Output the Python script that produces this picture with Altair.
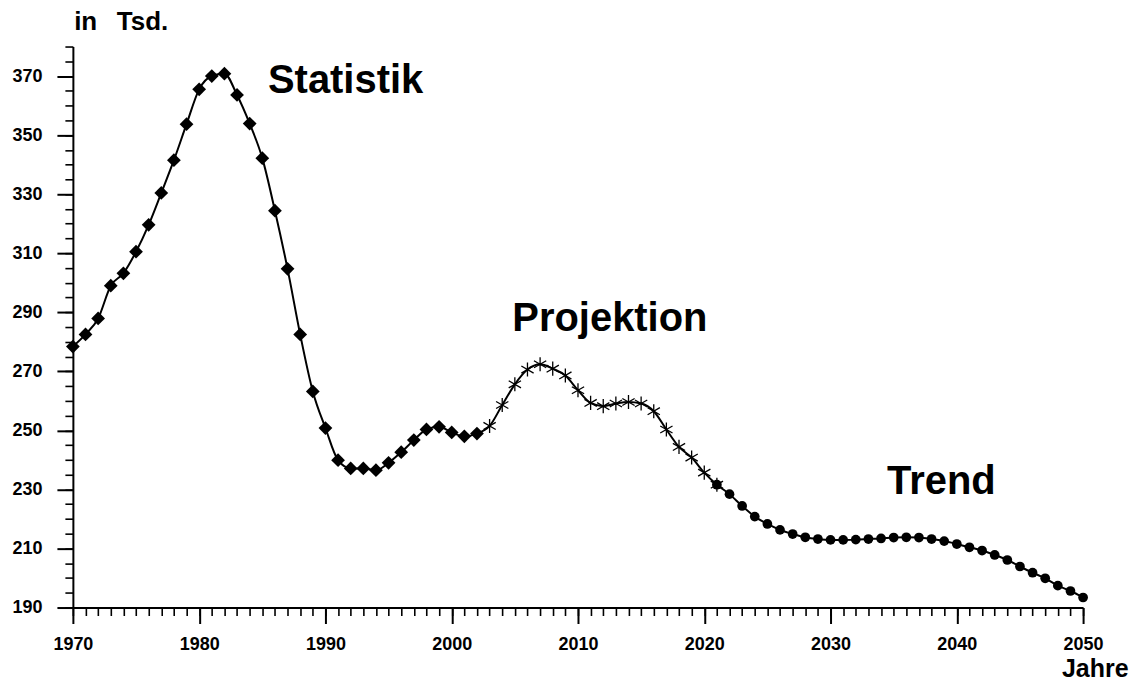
import altair as alt
import pandas as pd

# ---- data ----
stat_years = list(range(1970, 2003))
stat_values = [278.4, 282.5, 287.9, 299.0, 303.2, 310.5, 319.6, 330.4, 341.5, 353.7,
               365.5, 370.0, 370.8, 363.6, 353.9, 342.2, 324.4, 304.7, 282.5, 263.2,
               250.8, 239.9, 237.1, 237.1, 236.5, 239.0, 242.6, 246.7, 250.3, 251.2,
               249.3, 248.0, 248.9]

proj_years = list(range(2003, 2022))
proj_values = [251.5, 258.6, 265.6, 270.6, 272.4, 270.9, 268.6, 263.6, 259.3, 258.2,
               259.1, 259.6, 259.1, 256.5, 250.3, 244.4, 240.8, 235.7, 231.6]

trend_years = list(range(2021, 2051))
trend_values = [231.6, 228.4, 224.4, 220.8, 218.3, 216.3, 214.9, 213.8, 213.2, 212.9,
                212.9, 213.0, 213.2, 213.4, 213.7, 213.8, 213.7, 213.2, 212.5, 211.5,
                210.4, 209.3, 207.8, 206.1, 203.9, 201.8, 199.9, 197.4, 195.6, 193.4]

x_major = list(range(1970, 2051, 10))
x_minor = list(range(1970, 2051, 1))
y_major = list(range(190, 371, 20))
y_minor = list(range(190, 381, 5))

ann_labels = ["Statistik", "Projektion", "Trend"]
ann_x = [1985.45, 2004.8, 2034.47]
ann_y = [364.3, 283.5, 228.6]

unit_labels = ["in", "Tsd."]
unit_x = [1970.1, 1973.48]
unit_y = [385.5, 385.5]

xtitle_label = ["Jahre"]
xtitle_x = [2053.6]
xtitle_y = [166.4]

# ---- tables ----
stat = pd.DataFrame({"year": stat_years, "value": stat_values})
proj = pd.DataFrame({"year": proj_years, "value": proj_values})
trend = pd.DataFrame({"year": trend_years, "value": trend_values})
line_df = pd.concat([stat, proj, trend]).drop_duplicates("year").sort_values("year")
ann = pd.DataFrame({"label": ann_labels, "x": ann_x, "y": ann_y})
unit = pd.DataFrame({"label": unit_labels, "x": unit_x, "y": unit_y})
xt = pd.DataFrame({"label": xtitle_label, "x": xtitle_x, "y": xtitle_y})

FONT = "Liberation Sans"

xscale = alt.Scale(domain=[1970, 2050], nice=False, zero=False)
yscale = alt.Scale(domain=[190, 380], nice=False, zero=False)

ax_x_major = alt.Axis(orient="bottom", values=x_major, tickSize=16, tickWidth=2,
                      tickColor="black", domain=True, domainColor="black", domainWidth=2,
                      grid=False, labelFont=FONT, labelFontWeight="bold",
                      labelFontSize=18, labelColor="black", labelPadding=12,
                      labelFlush=False, labelOverlap=False, format="d", title=None)
ax_y_major = alt.Axis(orient="left", values=y_major, tickSize=16, tickWidth=2,
                      tickColor="black", domain=True, domainColor="black", domainWidth=2,
                      grid=False, labelFont=FONT, labelFontWeight="bold",
                      labelFontSize=18, labelColor="black", labelPadding=15,
                      labelOverlap=False, format="d", title=None)
ax_x_minor = alt.Axis(orient="bottom", values=x_minor, tickSize=8, tickWidth=1.6,
                      tickColor="black", domain=False, grid=False, labels=False, title=None)
ax_y_minor = alt.Axis(orient="left", values=y_minor, tickSize=8, tickWidth=1.6,
                      tickColor="black", domain=False, grid=False, labels=False, title=None)

line = alt.Chart(line_df).mark_line(color="black", strokeWidth=2, interpolate="monotone").encode(
    x=alt.X("year:Q", scale=xscale, axis=ax_x_major),
    y=alt.Y("value:Q", scale=yscale, axis=ax_y_major),
)

diamonds = alt.Chart(stat).mark_point(shape="diamond", filled=True, color="black",
                                      size=190, opacity=1).encode(
    x=alt.X("year:Q", scale=xscale, axis=ax_x_minor),
    y=alt.Y("value:Q", scale=yscale, axis=ax_y_minor),
)

ASTERISK = "M0,-1L0,1M-0.87,-0.5L0.87,0.5M-0.87,0.5L0.87,-0.5"
stars = alt.Chart(proj).mark_point(shape=ASTERISK, filled=False, color="black",
                                   strokeWidth=1.3, size=200, opacity=1).encode(
    x=alt.X("year:Q", scale=xscale, axis=None),
    y=alt.Y("value:Q", scale=yscale, axis=None),
)

dots = alt.Chart(trend).mark_point(shape="circle", filled=True, color="black",
                                   size=95, opacity=1).encode(
    x=alt.X("year:Q", scale=xscale, axis=None),
    y=alt.Y("value:Q", scale=yscale, axis=None),
)

big_text = alt.Chart(ann).mark_text(font=FONT, fontWeight="bold", fontSize=40,
                                    align="left", baseline="alphabetic", color="black").encode(
    x=alt.X("x:Q", scale=xscale, axis=None),
    y=alt.Y("y:Q", scale=yscale, axis=None),
    text="label:N",
)

unit_text = alt.Chart(unit).mark_text(font=FONT, fontWeight="bold", fontSize=26,
                                      align="left", baseline="alphabetic", color="black").encode(
    x=alt.X("x:Q", scale=xscale, axis=None),
    y=alt.Y("y:Q", scale=yscale, axis=None),
    text="label:N",
)

xtitle_text = alt.Chart(xt).mark_text(font=FONT, fontWeight="bold", fontSize=25,
                                      align="right", baseline="alphabetic", color="black").encode(
    x=alt.X("x:Q", scale=xscale, axis=None),
    y=alt.Y("y:Q", scale=yscale, axis=None),
    text="label:N",
)

chart = alt.layer(line, diamonds, stars, dots, big_text, unit_text, xtitle_text).resolve_axis(
    x="independent", y="independent"
).properties(
    width=1012, height=562,
    autosize=alt.AutoSizeParams(type="none"),
    padding={"left": 65, "top": 38, "right": 48, "bottom": 76},
    background="white",
).configure_view(stroke=None)

chart.save("out.html", embed_options={"renderer": "svg", "actions": False})
